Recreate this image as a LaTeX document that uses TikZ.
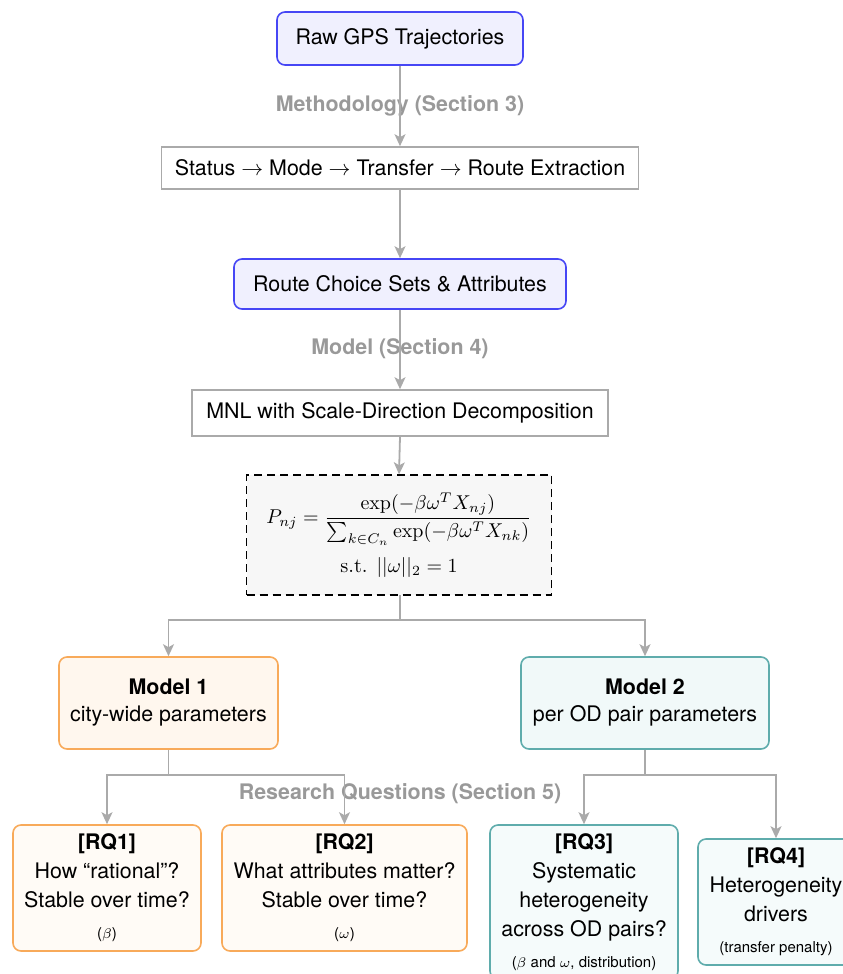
\documentclass[tikz,border=0pt]{standalone}
\usepackage[no-math]{fontspec}
\setsansfont{TeX Gyre Heros}
\usetikzlibrary{arrows.meta}
\definecolor{bluebd}{RGB}{70,70,245}
\definecolor{bluefill}{RGB}{240,240,254}
\definecolor{orbd}{RGB}{248,170,90}
\definecolor{orfill}{RGB}{255,247,238}
\definecolor{orfilltwo}{RGB}{255,251,246}
\definecolor{tealbd}{RGB}{95,172,172}
\definecolor{tealfill}{RGB}{241,249,249}
\definecolor{tealfilltwo}{RGB}{245,251,251}
\definecolor{arrgray}{RGB}{170,170,170}
\definecolor{labgray}{RGB}{153,153,153}
\definecolor{formfill}{RGB}{247,247,247}
\tikzset{
  basefont/.style={font=\sffamily\fontsize{10.7}{13.5}\selectfont},
  databox/.style={basefont, draw=bluebd, fill=bluefill, line width=0.8pt, rounded corners=4pt, inner sep=0pt, align=center},
  procbox/.style={basefont, draw=arrgray, fill=white, line width=0.8pt, inner sep=0pt, align=center},
  formbox/.style={draw=black, fill=formfill, line width=0.7pt, dash pattern=on 4pt off 2.5pt, inner sep=0pt, align=center, font=\fontsize{10.2}{13}\selectfont},
  modelone/.style={basefont, draw=orbd, fill=orfill, line width=0.8pt, rounded corners=4pt, inner sep=0pt, align=center},
  modeltwo/.style={basefont, draw=tealbd, fill=tealfill, line width=0.8pt, rounded corners=4pt, inner sep=0pt, align=center},
  rqone/.style={font=\sffamily\fontsize{10.7}{14.5}\selectfont, draw=orbd, fill=orfilltwo, line width=0.8pt, rounded corners=4pt, inner sep=0pt, align=center},
  rqtwo/.style={font=\sffamily\fontsize{10.7}{14.5}\selectfont, draw=tealbd, fill=tealfilltwo, line width=0.8pt, rounded corners=4pt, inner sep=0pt, align=center},
  seclabel/.style={font=\sffamily\bfseries\fontsize{10.7}{13}\selectfont, text=labgray, inner sep=0pt},
  conn/.style={draw=arrgray, line width=0.9pt},
  arr/.style={conn, -{Stealth[length=6pt,width=5.5pt,inset=1.5pt]}}
}
\newcommand{\smalltxt}[1]{{\fontsize{7.5}{9}\selectfont #1}}
\begin{document}
\begin{tikzpicture}[x=0.5pt,y=-0.5pt]
\useasboundingbox (0,0) rectangle (842,974);
% section labels
\node[seclabel] (lab1) at (400,106) {Methodology (Section 3)};
\node[seclabel] (lab2) at (400,349) {Model (Section 4)};
\node[seclabel] (lab3) at (400,794) {Research Questions (Section 5)};
% nodes
\node[databox, minimum width=123pt, minimum height=26.5pt] (raw) at (400,38.5) {Raw GPS Trajectories};
\node[procbox, minimum width=238.5pt, minimum height=21pt] (status) at (400,168) {Status $\rightarrow$ Mode $\rightarrow$ Transfer $\rightarrow$ Route Extraction};
\node[databox, minimum width=166pt, minimum height=25pt] (route) at (400,284) {Route Choice Sets \& Attributes};
\node[procbox, minimum width=208pt, minimum height=23pt] (mnl) at (400,413) {MNL with Scale-Direction Decomposition};
\node[formbox, minimum width=152.5pt, minimum height=60pt] (formula) at (399,535) {$\displaystyle P_{nj} = \frac{\exp(-\beta\omega^T X_{nj})}{\sum_{k\in C_n}\exp(-\beta\omega^T X_{nk})}$\\[5pt] s.t. $||\omega||_2 = 1$};
\node[modelone, minimum width=109.5pt, minimum height=46pt] (m1) at (168.5,703) {\textbf{Model 1}\\city-wide parameters};
\node[modeltwo, minimum width=124pt, minimum height=46pt] (m2) at (645,703) {\textbf{Model 2}\\per OD pair parameters};
\node[rqone, minimum width=94pt, minimum height=63pt] (rq1) at (107,888) {\textbf{[RQ1]}\\How “rational”?\\Stable over time?\\[1pt]\smalltxt{($\beta$)}};
\node[rqone, minimum width=122.5pt, minimum height=63pt] (rq2) at (344.5,888) {\textbf{[RQ2]}\\What attributes matter?\\Stable over time?\\[1pt]\smalltxt{($\omega$)}};
\node[rqtwo, minimum width=94pt, minimum height=77pt] (rq3) at (584,902) {\textbf{[RQ3]}\\Systematic\\heterogeneity\\across OD pairs?\\[1pt]\smalltxt{($\beta$ and $\omega$, distribution)}};
\node[rqtwo, minimum width=78pt, minimum height=63pt] (rq4) at (776,902) {\textbf{[RQ4]}\\Heterogeneity\\drivers\\[1pt]\smalltxt{(transfer penalty)}};
% connectors
\draw[arr] (raw.south) -- (status.north);
\draw[arr] (status.south) -- (route.north);
\draw[arr] (route.south) -- (mnl.north);
\draw[arr] (mnl.south) -- (formula.north);
\coordinate (bf) at (400,620);
\draw[conn] (400,595) -- (bf);
\draw[arr] (bf) -| (m1.north);
\draw[arr] (bf) -| (m2.north);
\coordinate (b1) at (168.5,775);
\draw[conn] (m1.south) -- (b1);
\draw[arr] (b1) -| (rq1.north);
\draw[arr] (b1) -| (rq2.north);
\coordinate (b2) at (645,775);
\draw[conn] (m2.south) -- (b2);
\draw[arr] (b2) -| (rq3.north);
\draw[arr] (b2) -| (rq4.north);
\end{tikzpicture}
\end{document}
